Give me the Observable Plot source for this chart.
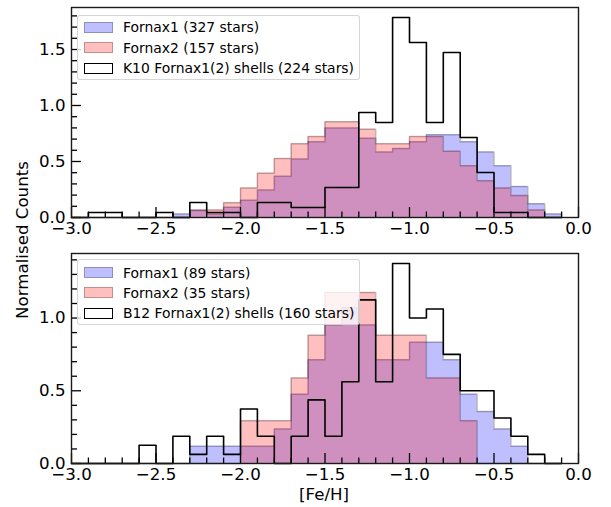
<!DOCTYPE html>
<html>
<head>
<meta charset="utf-8">
<script src="https://cdn.jsdelivr.net/npm/d3@7"></script>
<script src="https://cdn.jsdelivr.net/npm/@observablehq/plot@0.6"></script>
<style>
  html, body { margin: 0; padding: 0; background: #fff; }
  #wrap { position: relative; width: 611px; height: 507px; font-family: "DejaVu Sans", sans-serif; color: #000; overflow: hidden; }
  .panel { position: absolute; left: 0; }
  .legend { position: absolute; background: rgba(255,255,255,0.8); border: 1px solid rgba(204,204,204,0.8); border-radius: 3px; box-sizing: border-box; }
  .legend .row { position: absolute; left: 0; height: 16px; }
  .legend .patch { position: absolute; left: 6px; width: 29px; height: 11px; box-sizing: border-box; }
  .legend .lbl { position: absolute; left: 45px; white-space: nowrap; font-size: 13.9px; line-height: 16px; }
  .axlabel { position: absolute; font-size: 16.67px; white-space: nowrap; }
</style>
</head>
<body>
<div id="wrap"></div>
<script>
// Bin left edges (bin width 0.1); last bin ends at -0.1
const binEdges = [-3.0,-2.9,-2.8,-2.7,-2.6,-2.5,-2.4,-2.3,-2.2,-2.1,-2.0,-1.9,-1.8,-1.7,-1.6,-1.5,-1.4,-1.3,-1.2,-1.1,-1.0,-0.9,-0.8,-0.7,-0.6,-0.5,-0.4,-0.3,-0.2];
const binEnd = -0.1;

// Top panel: normalised counts
const topFornax1 = [0,0,0,0,0,0,0.031,0.062,0.031,0.092,0.154,0.246,0.369,0.523,0.677,0.800,0.800,0.708,0.585,0.615,0.677,0.738,0.738,0.677,0.585,0.462,0.277,0.123,0.031];
const topFornax2 = [0,0,0,0,0,0,0,0.066,0.066,0.132,0.263,0.395,0.526,0.658,0.724,0.855,0.855,0.789,0.658,0.658,0.724,0.724,0.592,0.461,0.329,0.263,0.197,0.066,0];
const topK10     = [0,0.045,0.045,0,0,0.045,0,0.134,0.045,0.045,0,0.134,0.134,0.089,0.089,0.268,0.268,0.938,0.848,1.786,1.563,0.848,1.473,0.714,0.402,0.045,0.045,0,0];

// Bottom panel: normalised counts
const botFornax1 = [0,0,0,0,0,0,0,0.119,0.119,0.119,0.119,0.119,0.238,0.476,0.714,0.952,1.071,0.952,0.714,0.714,0.833,0.833,0.714,0.476,0.357,0.238,0.119,0,0];
const botFornax2 = [0,0,0,0,0,0,0,0,0,0,0.294,0.294,0.294,0.588,0.882,1.176,1.176,1.176,0.882,0.882,0.882,0.588,0.588,0.294,0,0,0,0,0];
const botB12     = [0,0,0,0,0.125,0,0.1875,0.0625,0.1875,0.0625,0.375,0.1875,0,0.1875,0.4375,0.1875,0.5625,1.125,0.5625,1.375,1.0,1.0625,0.75,0.5,0.5,0.3125,0.1875,0.0625,0];

// Legend labels
const topLegend = ["Fornax1 (327 stars)", "Fornax2 (157 stars)", "K10 Fornax1(2) shells (224 stars)"];
const botLegend = ["Fornax1 (89 stars)", "Fornax2 (35 stars)", "B12 Fornax1(2) shells (160 stars)"];

// Ticks
const xTicks = [-3.0,-2.5,-2.0,-1.5,-1.0,-0.5,0.0];
const xTickLabels = ["\u22123.0","\u22122.5","\u22122.0","\u22121.5","\u22121.0","\u22120.5","0.0"];
const xMinor = [-2.9,-2.8,-2.7,-2.6,-2.4,-2.3,-2.2,-2.1,-1.9,-1.8,-1.7,-1.6,-1.4,-1.3,-1.2,-1.1,-0.9,-0.8,-0.7,-0.6,-0.4,-0.3,-0.2,-0.1];
const topYTicks = [0.0,0.5,1.0,1.5];
const topYTickLabels = ["0.0","0.5","1.0","1.5"];
const topYMinor = [0.1,0.2,0.3,0.4,0.6,0.7,0.8,0.9,1.1,1.2,1.3,1.4,1.6,1.7,1.8];
const botYTicks = [0.0,0.5,1.0];
const botYTickLabels = ["0.0","0.5","1.0"];
const botYMinor = [0.1,0.2,0.3,0.4,0.6,0.7,0.8,0.9,1.1,1.2,1.3,1.4];

(function () {
const W = 611, H = 240, mL = 71, mR = 33, mT = 7, mB = 23;
const frameW = W - mL - mR, frameH = H - mT - mB;

function series(vals) {
  const pts = binEdges.map((x, i) => ({x, y: vals[i]}));
  pts.push({x: binEnd, y: 0});
  return pts;
}

function panel(f1, f2, shells, yMax, yTicks, yLabels, yMinor) {
  const s1 = series(f1), s2 = series(f2), s3 = series(shells);
  return Plot.plot({
    width: W, height: H,
    marginLeft: mL, marginRight: mR, marginTop: mT, marginBottom: mB,
    style: {fontFamily: "DejaVu Sans, sans-serif", background: "transparent", overflow: "visible"},
    x: {domain: [-3, 0]},
    y: {domain: [0, yMax]},
    marks: [
      Plot.areaY(s1, {x: "x", y: "y", curve: "step-after", fill: "rgb(0,0,255)", fillOpacity: 0.25}),
      Plot.lineY(s1, {x: "x", y: "y", curve: "step-after", stroke: "#000", strokeOpacity: 0.25, strokeWidth: 1.5}),
      Plot.areaY(s2, {x: "x", y: "y", curve: "step-after", fill: "rgb(255,0,0)", fillOpacity: 0.25}),
      Plot.lineY(s2, {x: "x", y: "y", curve: "step-after", stroke: "#000", strokeOpacity: 0.25, strokeWidth: 1.5}),
      Plot.lineY(s3, {x: "x", y: "y", curve: "step-after", stroke: "#000", strokeWidth: 1.6}),
      Plot.tickX(xMinor, {x: d => d, insetTop: frameH - 5.5, stroke: "#000", strokeWidth: 1.3}),
      Plot.tickX(xTicks, {x: d => d, insetTop: frameH - 10, stroke: "#000", strokeWidth: 1.3}),
      Plot.tickY(yMinor, {y: d => d, insetRight: frameW - 6, stroke: "#000", strokeWidth: 1.3}),
      Plot.tickY(yTicks, {y: d => d, insetRight: frameW - 10, stroke: "#000", strokeWidth: 1.3}),
      Plot.axisX({ticks: xTicks, tickSize: 0, tickPadding: 5, fontSize: 16.67, label: null,
        tickFormat: d => xTickLabels[xTicks.indexOf(d)]}),
      Plot.axisY({ticks: yTicks, tickSize: 0, tickPadding: 6, fontSize: 16.67, label: null,
        tickFormat: d => yLabels[yTicks.indexOf(d)]}),
      Plot.frame({stroke: "#1a1a1a", strokeWidth: 1.4})
    ]
  });
}

function legend(labels, left, topPx, width, height, rowCenters) {
  const box = document.createElement("div");
  box.className = "legend";
  Object.assign(box.style, {left: left + "px", top: topPx + "px", width: width + "px", height: height + "px"});
  const styles = [
    {background: "rgba(0,0,255,0.25)", border: "1.5px solid rgba(0,0,0,0.25)"},
    {background: "rgba(255,0,0,0.25)", border: "1.5px solid rgba(0,0,0,0.25)"},
    {background: "transparent", border: "1.6px solid #000"}
  ];
  labels.forEach((t, i) => {
    const row = document.createElement("div");
    row.className = "row";
    row.style.top = (rowCenters[i] - 8) + "px";
    const p = document.createElement("div");
    p.className = "patch";
    p.style.top = "2.5px";
    Object.assign(p.style, styles[i]);
    const l = document.createElement("div");
    l.className = "lbl";
    l.style.top = "0px";
    l.textContent = t;
    row.appendChild(p); row.appendChild(l);
    box.appendChild(row);
  });
  return box;
}

const wrap = document.getElementById("wrap");

const topPanel = panel(topFornax1, topFornax2, topK10, 1.875, topYTicks, topYTickLabels, topYMinor);
topPanel.classList.add("panel");
topPanel.style.top = "0px";
wrap.appendChild(topPanel);

const botPanel = panel(botFornax1, botFornax2, botB12, 1.44375, botYTicks, botYTickLabels, botYMinor);
botPanel.classList.add("panel");
botPanel.style.top = "246px";
wrap.appendChild(botPanel);

wrap.appendChild(legend(topLegend, 77, 15, 283, 65, [11, 31.5, 52]));
wrap.appendChild(legend(botLegend, 77, 259, 283, 66, [12.5, 32.5, 53]));

const yl = document.createElement("div");
yl.className = "axlabel";
yl.textContent = "Normalised Counts";
Object.assign(yl.style, {left: "22px", top: "240px", transform: "translate(-50%,-50%) rotate(-90deg)"});
wrap.appendChild(yl);

const xl = document.createElement("div");
xl.className = "axlabel";
xl.textContent = "[Fe/H]";
Object.assign(xl.style, {left: "324px", top: "494px", transform: "translate(-50%,-50%)"});
wrap.appendChild(xl);
})();
</script>
</body>
</html>
